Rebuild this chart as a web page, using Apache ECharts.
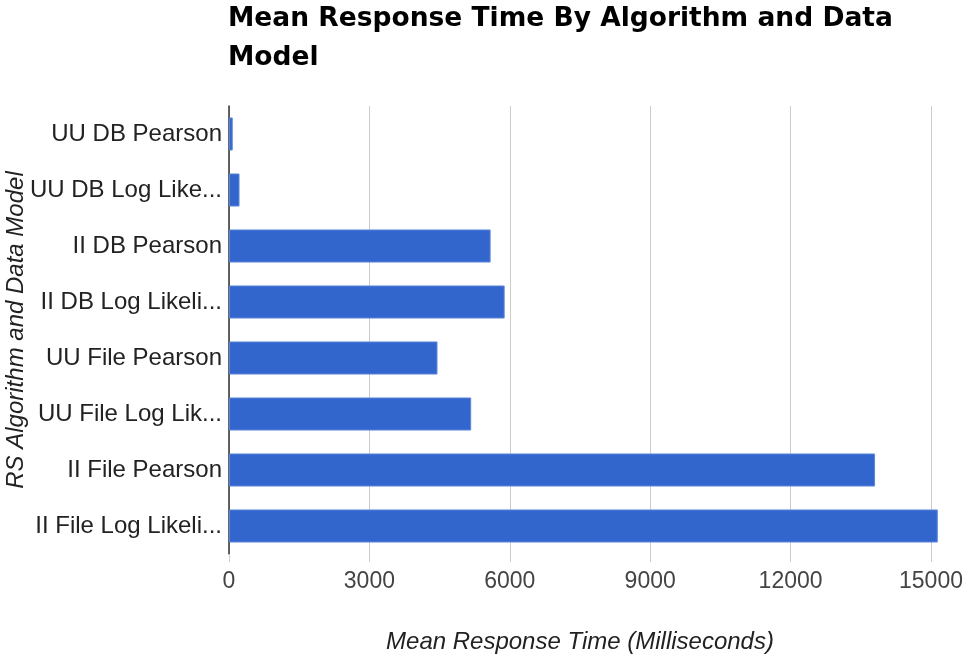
<!DOCTYPE html>
<html><head><meta charset="utf-8">
<script src="https://cdn.jsdelivr.net/npm/echarts@6/dist/echarts.min.js"></script>
<style>html,body{margin:0;padding:0;background:#fff}#c{width:968px;height:658px}</style>
</head><body><div id="c"></div>
<script>
const categories = ["UU DB Pearson","UU DB Log Like...","II DB Pearson","II DB Log Likeli...","UU File Pearson","UU File Log Lik...","II File Pearson","II File Log Likeli..."];
const values = [80, 225, 5590, 5890, 4455, 5175, 13805, 15145];
const xTicks = [0, 3000, 6000, 9000, 12000, 15000];
const titleText = "Mean Response Time By Algorithm and Data Model";
const xName = "Mean Response Time (Milliseconds)";
const yName = "RS Algorithm and Data Model";

const FONT = 'Liberation Sans, Arial, sans-serif';
const chart = echarts.init(document.getElementById('c'));
chart.setOption({
  animation: false,
  title: {
    text: titleText,
    left: 223, top: -5,
    textStyle: {fontFamily: 'DejaVu Sans, Liberation Sans, sans-serif', fontWeight: 'bold', fontSize: 26.5, color: '#000', width: 700, overflow: 'break', lineHeight: 39}
  },
  grid: {left: 229, right: 37, top: 106, bottom: 104, containLabel: false, outerBoundsMode: 'none'},
  xAxis: {
    type: 'value', min: xTicks[0], max: xTicks[xTicks.length-1], interval: 3000,
    name: xName, nameLocation: 'middle', nameGap: 76, nameMoveOverlap: false,
    nameTextStyle: {fontFamily: FONT, fontStyle: 'italic', fontSize: 24, color: '#222'},
    axisLine: {show: false},
    axisTick: {show: true, length: 8, lineStyle: {color: '#ccc'}},
    axisLabel: {fontFamily: FONT, fontSize: 23, color: '#444', margin: 16, formatter: v => String(v)},
    splitLine: {show: true, lineStyle: {color: '#ccc', width: 1}}
  },
  yAxis: {
    type: 'category', data: categories, inverse: true,
    name: yName, nameLocation: 'middle', nameGap: 201, nameRotate: 90, nameMoveOverlap: false,
    nameTextStyle: {fontFamily: FONT, fontStyle: 'italic', fontSize: 24, color: '#222'},
    axisLine: {show: true, lineStyle: {color: '#333', width: 1.5}},
    axisTick: {show: false},
    axisLabel: {fontFamily: FONT, fontSize: 24, color: '#222', margin: 7}
  },
  series: [{
    type: 'bar', data: values, barCategoryGap: '41%', clip: false,
    itemStyle: {color: '#3366cc', borderColor: '#5c86dc', borderWidth: 1}
  }]
});
</script></body></html>
